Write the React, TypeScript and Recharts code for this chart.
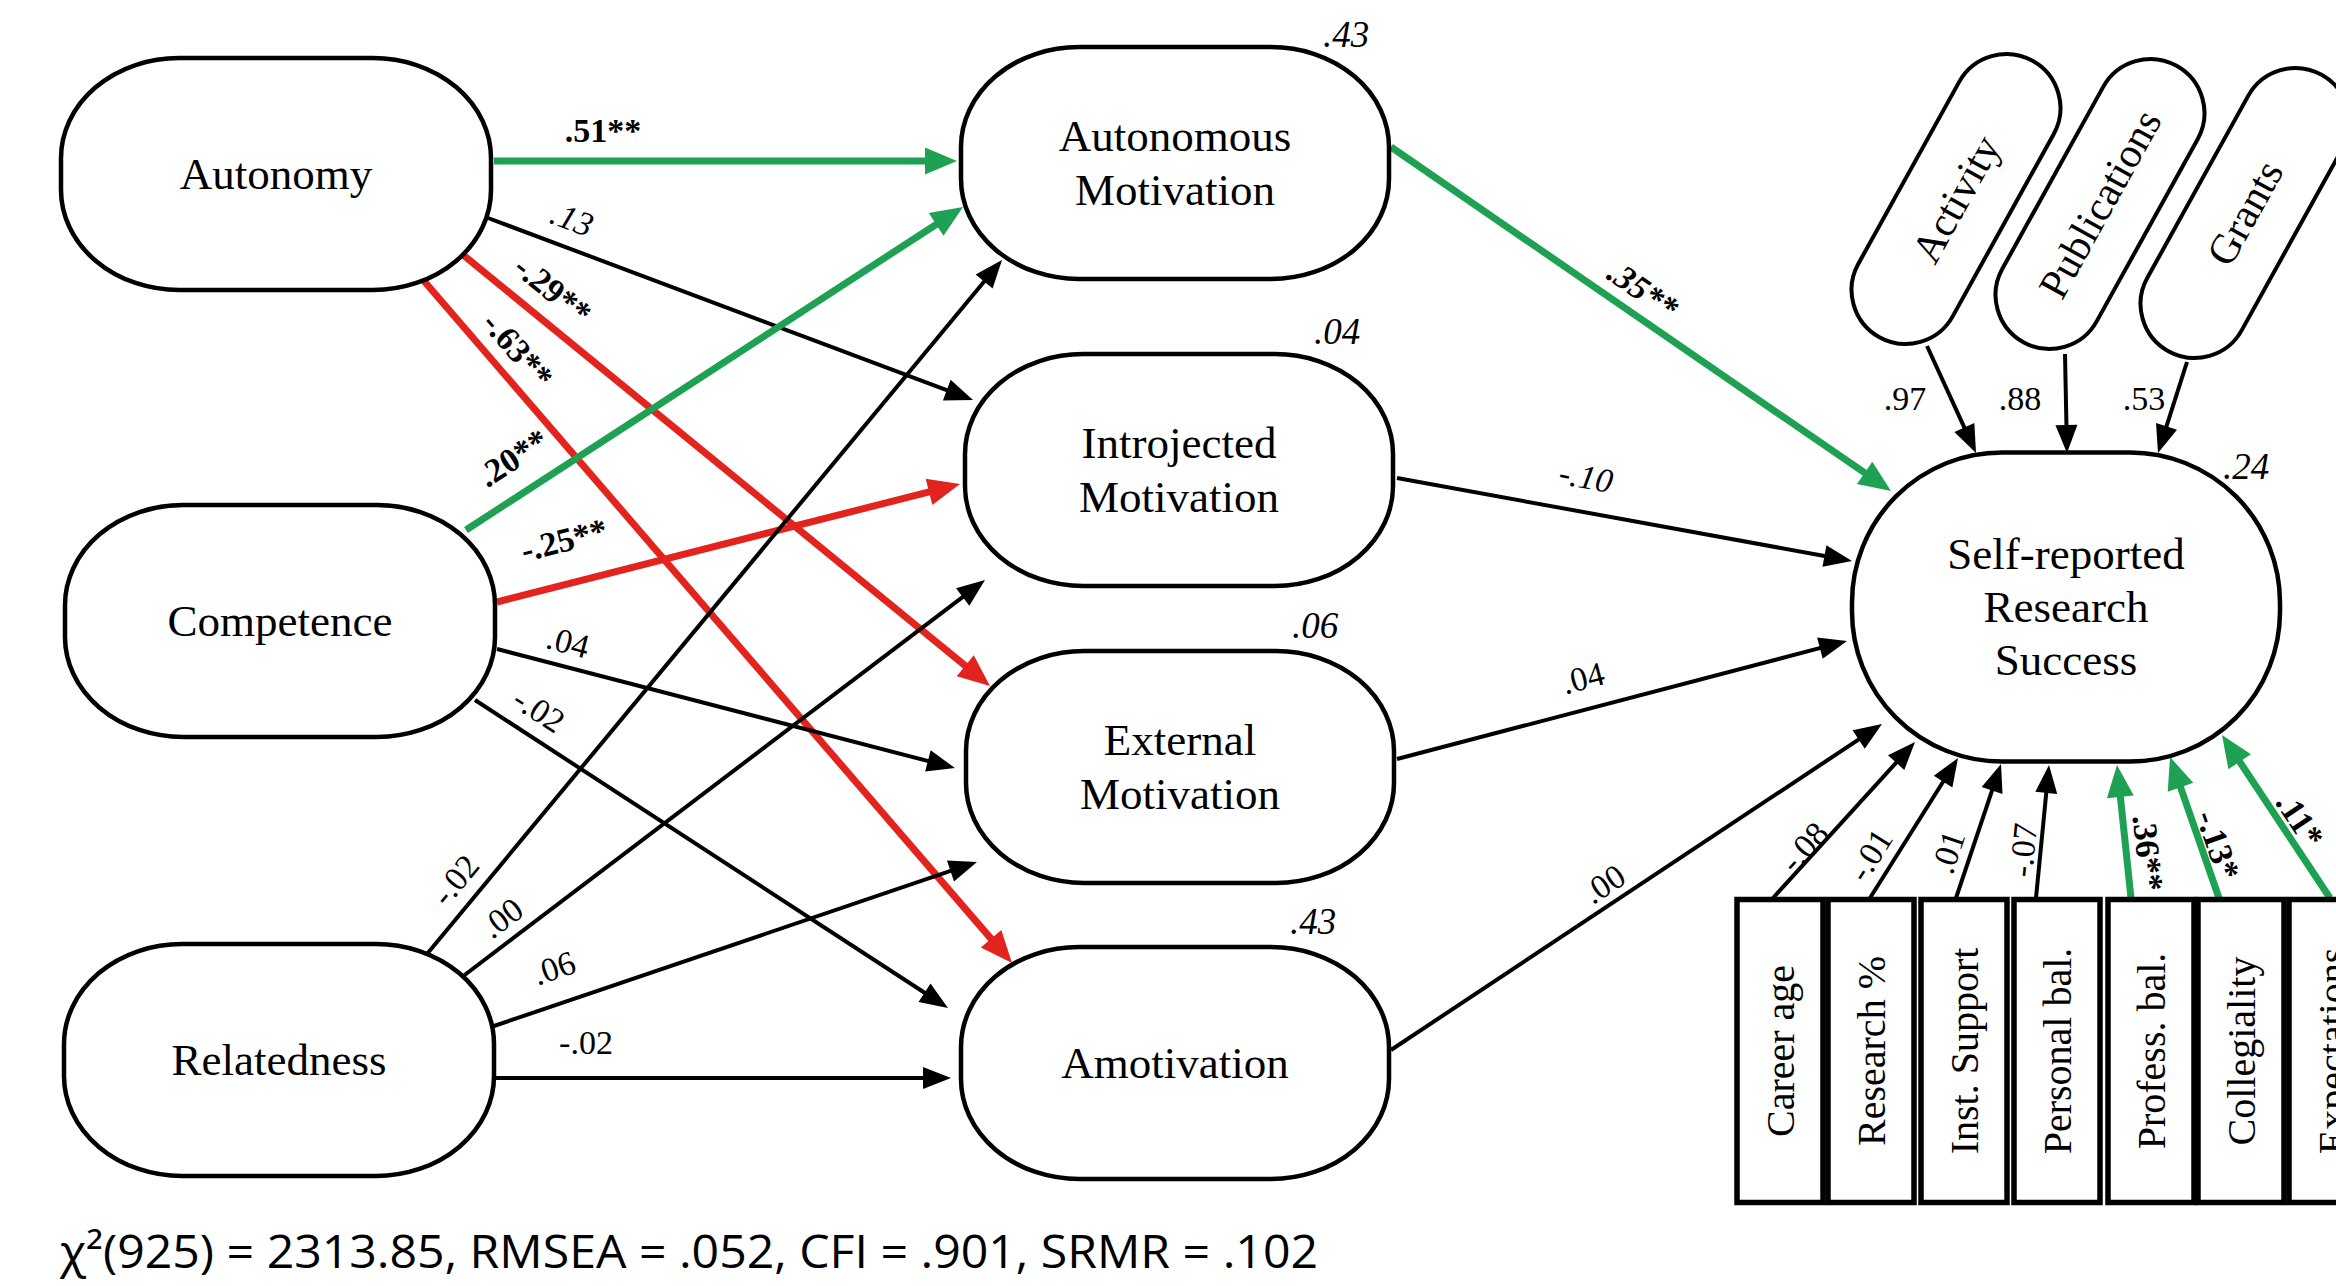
import React from "react";
import { ScatterChart, Scatter, XAxis, YAxis } from "recharts";

const W = 2336;
const H = 1286;

// ---- values ----
const predictors = ["Autonomy", "Competence", "Relatedness"];
const motivations = [
  ["Autonomous", "Motivation"],
  ["Introjected", "Motivation"],
  ["External", "Motivation"],
  ["Amotivation"],
];
const motivationR2 = [".43", ".04", ".06", ".43"];
// rows = predictor, columns = motivation
const predictorPaths = [
  [".51**", ".13", "-.29**", "-.63**"],
  [".20**", "-.25**", ".04", "-.02"],
  ["-.02", ".00", ".06", "-.02"],
];
const motivationPaths = [".35**", "-.10", ".04", ".00"];
const outcome = ["Self-reported", "Research", "Success"];
const outcomeR2 = ".24";
const indicators = ["Activity", "Publications", "Grants"];
const loadings = [".97", ".88", ".53"];
const covariates = [
  "Career age",
  "Research %",
  "Inst. Support",
  "Personal bal.",
  "Profess. bal.",
  "Collegiality",
  "Expectations",
];
const covariatePaths = ["-.08", "-.01", ".01", "-.07", ".36**", "-.13*", ".11*"];
const fitText = "χ²(925) = 2313.85, RMSEA = .052, CFI = .901, SRMR = .102";

// ---- layout (diagram coordinates, 1 unit = 1 px) ----
type Pt = [number, number];
const predictorPos: Pt[] = [[276, 174], [280, 621], [279, 1060]];
const motivationPos: Pt[] = [[1175, 163], [1179, 470], [1180, 767], [1175, 1063]];
const motivationR2Pos: Pt[] = [[1346, 34], [1337, 331], [1315, 625], [1313, 921]];
const outcomePos: Pt = [2066, 607];
const outcomeR2Pos: Pt = [2246, 466];
const indicatorPos: Pt[] = [[1956, 199], [2100, 204], [2245, 213]];
const covariateX = [1780, 1871, 1964, 2057, 2151, 2241, 2332];
const covariateY = 1051;

const predTail: Pt[][] = [
  [[494, 161], [488, 218], [462, 254], [424, 281]],
  [[466, 530], [497, 602], [497, 649], [475, 700]],
  [[427, 954], [462, 977], [491, 1027], [494, 1078]],
];
const predTip: Pt[][] = [
  [[957, 161], [973, 400], [990, 686], [1012, 963]],
  [[963, 207], [960, 484], [955, 768], [948, 1008]],
  [[1002, 260], [985, 580], [977, 862], [951, 1078]],
];
const predLabel: Pt[][] = [
  [[603, 130], [572, 219], [553, 290], [518, 350]],
  [[513, 458], [564, 540], [568, 642], [539, 710]],
  [[455, 880], [502, 918], [554, 968], [586, 1042]],
];
const motTail: Pt[] = [[1391, 147], [1397, 478], [1397, 759], [1391, 1050]];
const motTip: Pt[] = [[1891, 491], [1852, 561], [1847, 641], [1882, 724]];
const motLabel: Pt[] = [[1643, 290], [1586, 477], [1583, 678], [1604, 884]];
const indTail: Pt[] = [[1927, 346], [2065, 354], [2187, 362]];
const indTip: Pt[] = [[1976, 453], [2067, 453], [2158, 453]];
const indLabel: Pt[] = [[1905, 398], [2020, 398], [2144, 398]];
const covTailX = [1773, 1870, 1956, 2036, 2131, 2219, 2330];
const covTailY = 898;
const covTip: Pt[] = [[1915, 742], [1958, 758], [2001, 764], [2049, 765], [2117, 765], [2170, 757], [2222, 735]];
const covLabel: Pt[] = [[1804, 847], [1870, 855], [1948, 852], [2023, 850], [2148, 853], [2218, 845], [2300, 820]];

const GREEN = "#1ea153";
const RED = "#e2231e";
const SERIF = "'Liberation Serif', 'Times New Roman', serif";
const SANS = "'Open Sans', 'Noto Sans', sans-serif";

const isSig = (s: string) => s.includes("*");
const italicLabels = new Set(["A-1", "M-0", "M-1"]);

interface Edge {
  key: string;
  tail: Pt;
  tip: Pt;
  label: string;
  labelPos: Pt;
  color: string;
  along: boolean;
}

function edgeColor(label: string, allowRed: boolean) {
  if (!isSig(label)) return "#000";
  if (allowRed && label.startsWith("-")) return RED;
  return GREEN;
}

const edges: Edge[] = [];
predictorPaths.forEach((row, i) =>
  row.forEach((label, j) =>
    edges.push({
      key: `${"ACR"[i]}-${j}`,
      tail: predTail[i][j],
      tip: predTip[i][j],
      label,
      labelPos: predLabel[i][j],
      color: edgeColor(label, true),
      along: true,
    })
  )
);
motivationPaths.forEach((label, j) =>
  edges.push({
    key: `M-${j}`,
    tail: motTail[j],
    tip: motTip[j],
    label,
    labelPos: motLabel[j],
    color: edgeColor(label, false),
    along: true,
  })
);
loadings.forEach((label, j) =>
  edges.push({
    key: `I-${j}`,
    tail: indTail[j],
    tip: indTip[j],
    label,
    labelPos: indLabel[j],
    color: "#000",
    along: false,
  })
);
covariatePaths.forEach((label, j) =>
  edges.push({
    key: `C-${j}`,
    tail: [covTailX[j], covTailY],
    tip: covTip[j],
    label,
    labelPos: covLabel[j],
    color: edgeColor(label, false),
    along: true,
  })
);

function edgeSeries(e: Edge) {
  const dx = e.tip[0] - e.tail[0];
  const dy = e.tip[1] - e.tail[1];
  const len = Math.hypot(dx, dy);
  const ux = dx / len;
  const uy = dy / len;
  const heavy = e.color !== "#000";
  const hl = heavy ? 32 : 28;
  const hw = heavy ? 27 : 22;
  const back = hl * 0.8;
  return [
    { x: e.tail[0], y: e.tail[1], head: false },
    { x: e.tip[0] - ux * back, y: e.tip[1] - uy * back, head: true, ux, uy, hl, hw, color: e.color },
  ];
}

function uprightAngle(e: Edge) {
  if (!e.along) return 0;
  let a = (Math.atan2(e.tip[1] - e.tail[1], e.tip[0] - e.tail[0]) * 180) / Math.PI;
  if (a > 90) a -= 180;
  if (a < -90) a += 180;
  return a;
}

const labelData = [
  ...edges.map((e) => ({
    x: e.labelPos[0],
    y: e.labelPos[1],
    text: e.label,
    angle: uprightAngle(e),
    size: 34,
    bold: isSig(e.label),
    italic: italicLabels.has(e.key),
  })),
  ...motivationR2.map((t, i) => ({
    x: motivationR2Pos[i][0],
    y: motivationR2Pos[i][1],
    text: t,
    angle: 0,
    size: 37,
    bold: false,
    italic: true,
  })),
  { x: outcomeR2Pos[0], y: outcomeR2Pos[1], text: outcomeR2, angle: 0, size: 37, bold: false, italic: true },
];

const fitData = [{ x: 60, y: 1268, text: fitText }];

const nodeData = [
  ...predictors.map((name, i) => ({
    x: predictorPos[i][0], y: predictorPos[i][1], lines: [name],
    w: 430, h: 232, rx: 118, ry: 100, rot: 0, fs: 45, gap: 54, sw: 4.5,
  })),
  ...motivations.map((lines, i) => ({
    x: motivationPos[i][0], y: motivationPos[i][1], lines,
    w: 428, h: 232, rx: 118, ry: 100, rot: 0, fs: 45, gap: 54, sw: 4.5,
  })),
  {
    x: outcomePos[0], y: outcomePos[1], lines: outcome,
    w: 428, h: 309, rx: 150, ry: 150, rot: 0, fs: 45, gap: 53, sw: 4.5,
  },
  ...indicators.map((name, i) => ({
    x: indicatorPos[i][0], y: indicatorPos[i][1], lines: [name],
    w: 316, h: 108, rx: 54, ry: 54, rot: -61, fs: 42, gap: 0, sw: 4,
  })),
  ...covariates.map((name, i) => ({
    x: covariateX[i], y: covariateY, lines: [name],
    w: 303, h: 86, rx: 0, ry: 0, rot: -90, fs: 40, gap: 0, sw: 5.5,
  })),
];

const ArrowHead = (props: any) => {
  const { cx, cy, payload } = props;
  if (!payload || !payload.head) return <g />;
  const a = (Math.atan2(payload.uy, payload.ux) * 180) / Math.PI;
  const L = payload.hl;
  const w = payload.hw;
  return (
    <path
      d={`M ${L * 0.8} 0 L ${-L * 0.2} ${-w / 2} L ${-L * 0.2} ${w / 2} Z`}
      fill={payload.color}
      transform={`translate(${cx},${cy}) rotate(${a})`}
    />
  );
};

const NodeShape = (props: any) => {
  const { cx, cy, payload } = props;
  const { w, h, rx, ry, rot, fs, gap, sw, lines } = payload;
  const n = lines.length;
  return (
    <g transform={`translate(${cx},${cy}) rotate(${rot})`}>
      <rect x={-w / 2} y={-h / 2} width={w} height={h} rx={rx} ry={ry} fill="#fff" stroke="#000" strokeWidth={sw} />
      {lines.map((t: string, i: number) => (
        <text
          key={t}
          x={0}
          y={(i - (n - 1) / 2) * gap}
          textAnchor="middle"
          dominantBaseline="central"
          fontFamily={SERIF}
          fontSize={fs}
          fill="#000"
        >
          {t}
        </text>
      ))}
    </g>
  );
};

const LabelShape = (props: any) => {
  const { cx, cy, payload } = props;
  return (
    <text
      x={cx}
      y={cy}
      transform={payload.angle ? `rotate(${payload.angle} ${cx} ${cy})` : undefined}
      textAnchor="middle"
      dominantBaseline="central"
      fontFamily={SERIF}
      fontSize={payload.size}
      fontWeight={payload.bold ? 700 : 400}
      fontStyle={payload.italic ? "italic" : "normal"}
      fill="#000"
    >
      {payload.text}
    </text>
  );
};

const FitShape = (props: any) => {
  const { cx, cy, payload } = props;
  return (
    <text
      x={cx}
      y={cy}
      fontFamily={SANS}
      fontSize={46}
      textLength={1258}
      lengthAdjust="spacingAndGlyphs"
      fill="#000"
    >
      {payload.text}
    </text>
  );
};

export default function App() {
  return (
    <div style={{ position: "absolute", left: 0, top: 0, width: W, height: H, background: "#fff", overflow: "hidden" }}>
      <ScatterChart width={W} height={H} margin={{ top: 0, right: 0, bottom: 0, left: 0 }}>
        <XAxis type="number" dataKey="x" domain={[0, W]} allowDataOverflow hide />
        <YAxis type="number" dataKey="y" domain={[0, H]} allowDataOverflow reversed hide />
        {edges.map((e) => (
          <Scatter
            key={e.key}
            data={edgeSeries(e)}
            line={{ stroke: e.color, strokeWidth: e.color === "#000" ? 4 : 7 }}
            lineType="joint"
            shape={ArrowHead}
            isAnimationActive={false}
          />
        ))}
        <Scatter data={nodeData} shape={NodeShape} isAnimationActive={false} />
        <Scatter data={labelData} shape={LabelShape} isAnimationActive={false} />
        <Scatter data={fitData} shape={FitShape} isAnimationActive={false} />
      </ScatterChart>
    </div>
  );
}
